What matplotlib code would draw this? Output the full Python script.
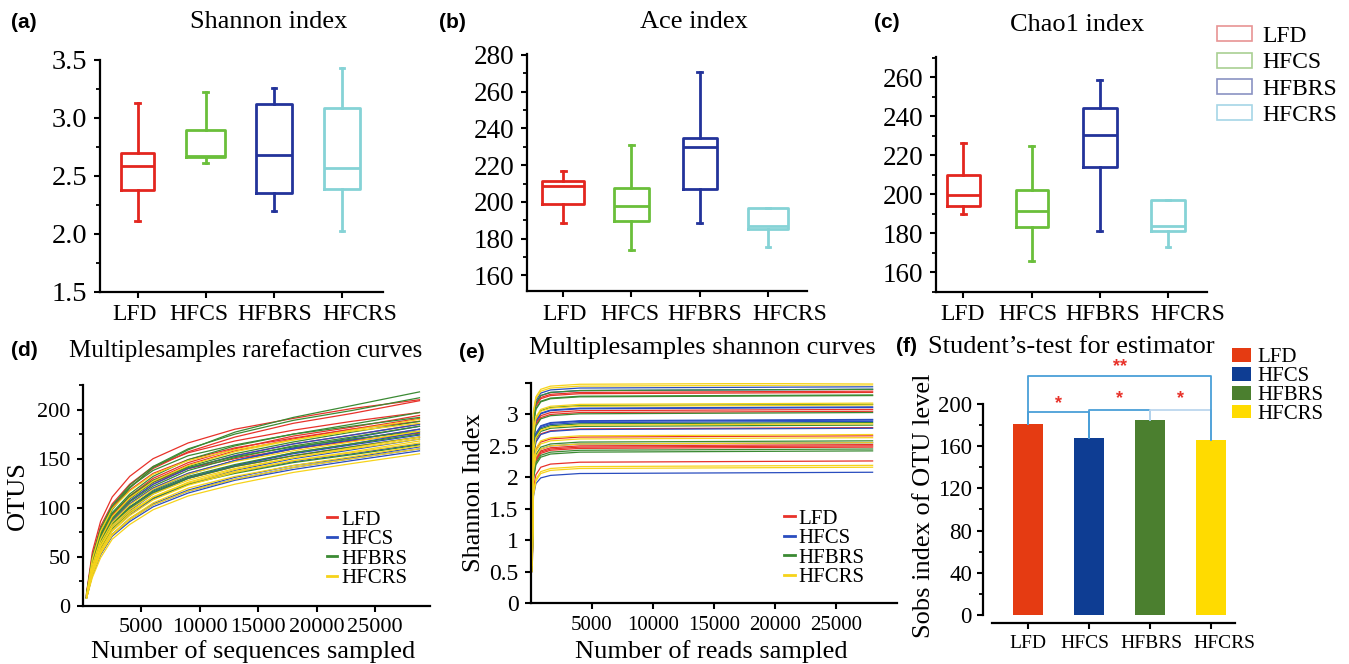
import matplotlib
matplotlib.use('Agg')
import matplotlib.pyplot as plt
from matplotlib.patches import Patch
from matplotlib.lines import Line2D
from matplotlib.ticker import MultipleLocator, FixedLocator, FormatStrFormatter
from matplotlib.transforms import ScaledTranslation

# ---------------- data ----------------
groups = ['LFD', 'HFCS', 'HFBRS', 'HFCRS']

# box statistics: [whislo, q1, med, q3, whishi]
shannon_stats = [[2.11, 2.375, 2.59, 2.70, 3.125],
                 [2.61, 2.665, 2.675, 2.895, 3.225],
                 [2.20, 2.355, 2.685, 3.12, 3.26],
                 [2.03, 2.39, 2.57, 3.09, 3.43]]
ace_stats = [[188.4, 198.9, 208.5, 211.4, 217.0],
             [173.6, 189.7, 198.0, 207.6, 231.1],
             [188.4, 207.1, 229.9, 234.6, 270.6],
             [175.2, 185.3, 187.0, 196.7, 196.7]]
chao_stats = [[189.7, 194.2, 199.8, 209.9, 226.3],
              [166.0, 183.4, 191.6, 202.2, 224.8],
              [181.4, 214.2, 230.3, 244.1, 258.3],
              [172.8, 181.4, 183.6, 197.1, 197.1]]

# rarefaction curves (OTUs vs sequences sampled)
rare_x = [300, 800, 1500, 2500, 4000, 6000, 9000, 13000, 18000, 23000, 28800]
rare_lfd = [
    [13, 55, 86, 111, 132, 150, 166, 180, 191, 201, 210],
    [10, 46, 75, 100, 121, 140, 157, 172, 186, 196, 209],
    [12, 51, 81, 104, 124, 142, 156, 168, 179, 188, 197],
    [10, 43, 70, 93, 112, 130, 146, 160, 173, 182, 194],
    [10, 42, 69, 92, 111, 128, 144, 158, 170, 180, 191],
    [11, 49, 77, 100, 118, 135, 149, 161, 171, 180, 188],
    [9, 41, 67, 89, 107, 124, 140, 153, 165, 174, 185],
    [9, 40, 65, 86, 104, 120, 135, 148, 160, 169, 180],
    [11, 46, 72, 93, 111, 126, 140, 150, 160, 168, 176],
    [9, 38, 62, 83, 99, 115, 130, 142, 153, 162, 172]]
rare_hfcs = [
    [9, 41, 67, 89, 107, 124, 140, 153, 165, 174, 185],
    [9, 37, 60, 82, 100, 118, 134, 148, 161, 171, 183],
    [9, 40, 65, 86, 104, 120, 135, 148, 160, 169, 180],
    [9, 35, 58, 80, 97, 114, 130, 143, 156, 165, 177],
    [9, 38, 63, 84, 101, 116, 131, 143, 155, 164, 174],
    [9, 34, 56, 77, 93, 109, 124, 138, 150, 159, 170],
    [8, 36, 59, 79, 95, 110, 124, 136, 147, 155, 165],
    [8, 32, 53, 73, 89, 104, 118, 131, 143, 151, 162],
    [8, 32, 53, 72, 88, 103, 117, 129, 141, 150, 160],
    [8, 32, 52, 71, 86, 101, 115, 128, 139, 148, 158]]
rare_hfbrs = [
    [11, 44, 72, 98, 120, 141, 159, 177, 192, 204, 218],
    [11, 47, 76, 102, 123, 142, 160, 175, 189, 199, 212],
    [10, 43, 71, 95, 114, 132, 149, 163, 175, 185, 197],
    [12, 50, 79, 102, 121, 138, 153, 164, 175, 183, 192],
    [9, 41, 68, 90, 109, 126, 142, 155, 167, 177, 188],
    [9, 40, 66, 88, 106, 122, 138, 151, 163, 172, 183],
    [11, 46, 73, 94, 112, 128, 141, 152, 162, 170, 178],
    [9, 39, 63, 84, 101, 117, 132, 144, 156, 165, 175],
    [9, 38, 62, 83, 99, 115, 130, 142, 153, 162, 172],
    [8, 36, 59, 79, 95, 110, 124, 135, 146, 154, 164]]
rare_hfcrs = [
    [10, 42, 68, 91, 110, 127, 143, 157, 169, 179, 190],
    [11, 48, 76, 99, 117, 134, 148, 159, 169, 178, 186],
    [9, 39, 64, 85, 103, 119, 134, 147, 158, 167, 178],
    [9, 34, 57, 77, 94, 111, 126, 139, 151, 161, 172],
    [9, 37, 61, 82, 98, 114, 128, 140, 151, 160, 170],
    [8, 34, 55, 76, 92, 108, 123, 136, 148, 157, 168],
    [8, 37, 60, 80, 96, 111, 125, 137, 148, 156, 166],
    [8, 33, 54, 73, 89, 105, 120, 132, 143, 152, 163],
    [8, 32, 53, 72, 88, 103, 117, 129, 141, 150, 160],
    [8, 29, 49, 68, 83, 98, 112, 124, 136, 145, 155]]

# shannon curves (Shannon index vs reads sampled)
shan_x = [100, 200, 400, 800, 1600, 4000, 28000]
shan_lfd = [
    [0.8, 2.92, 3.15, 3.27, 3.32, 3.35, 3.37],
    [0.8, 2.90, 3.13, 3.25, 3.30, 3.33, 3.35],
    [0.7, 2.63, 2.86, 2.98, 3.03, 3.06, 3.08],
    [0.7, 2.60, 2.83, 2.95, 3.00, 3.03, 3.05],
    [0.7, 2.34, 2.57, 2.69, 2.74, 2.77, 2.79],
    [0.6, 2.21, 2.44, 2.56, 2.61, 2.64, 2.66],
    [0.6, 2.07, 2.30, 2.42, 2.47, 2.50, 2.52],
    [0.6, 2.05, 2.28, 2.40, 2.45, 2.48, 2.50],
    [0.6, 2.03, 2.26, 2.38, 2.43, 2.46, 2.48],
    [0.5, 1.81, 2.04, 2.16, 2.21, 2.24, 2.26]]
shan_hfcs = [
    [0.8, 2.99, 3.22, 3.34, 3.39, 3.42, 3.44],
    [0.8, 2.95, 3.18, 3.30, 3.35, 3.38, 3.40],
    [0.7, 2.67, 2.90, 3.02, 3.07, 3.10, 3.12],
    [0.7, 2.66, 2.89, 3.01, 3.06, 3.09, 3.11],
    [0.7, 2.47, 2.70, 2.82, 2.87, 2.90, 2.92],
    [0.7, 2.46, 2.69, 2.81, 2.86, 2.89, 2.91],
    [0.7, 2.44, 2.67, 2.79, 2.84, 2.87, 2.89],
    [0.6, 2.33, 2.56, 2.68, 2.73, 2.76, 2.78],
    [0.6, 2.10, 2.33, 2.45, 2.50, 2.53, 2.55],
    [0.5, 1.70, 1.90, 1.99, 2.03, 2.06, 2.08]]
shan_hfbrs = [
    [0.8, 2.95, 3.18, 3.30, 3.35, 3.38, 3.40],
    [0.8, 2.86, 3.09, 3.21, 3.26, 3.29, 3.31],
    [0.8, 2.85, 3.08, 3.20, 3.25, 3.28, 3.30],
    [0.7, 2.71, 2.94, 3.06, 3.11, 3.14, 3.16],
    [0.7, 2.58, 2.81, 2.93, 2.98, 3.01, 3.03],
    [0.7, 2.42, 2.65, 2.77, 2.82, 2.85, 2.87],
    [0.6, 2.38, 2.61, 2.73, 2.78, 2.81, 2.83],
    [0.6, 2.13, 2.36, 2.48, 2.53, 2.56, 2.58],
    [0.6, 2.00, 2.23, 2.35, 2.40, 2.43, 2.45],
    [0.6, 1.97, 2.20, 2.32, 2.37, 2.40, 2.42]]
shan_hfcrs = [
    [0.6, 3.05, 3.28, 3.40, 3.45, 3.48, 3.50],
    [0.7, 3.02, 3.25, 3.37, 3.42, 3.45, 3.47],
    [0.7, 2.73, 2.96, 3.08, 3.13, 3.16, 3.18],
    [0.7, 2.70, 2.93, 3.05, 3.10, 3.13, 3.15],
    [0.7, 2.40, 2.63, 2.75, 2.80, 2.83, 2.85],
    [0.6, 2.23, 2.46, 2.58, 2.63, 2.66, 2.68],
    [0.6, 2.18, 2.41, 2.53, 2.58, 2.61, 2.63],
    [0.6, 2.10, 2.33, 2.45, 2.50, 2.53, 2.55],
    [0.6, 1.74, 1.97, 2.09, 2.14, 2.17, 2.19],
    [0.5, 1.71, 1.94, 2.06, 2.11, 2.14, 2.16]]

# Sobs index (student's t-test panel)
sobs = [181, 168, 185, 166]
# significance comparisons: (i, j, label)
sig_pairs = [(0, 1, '*'), (1, 2, '*'), (2, 3, '*'), (0, 3, '**')]

# ---------------- style ----------------
box_colors = ['#e3261f', '#6abf3a', '#23339a', '#85d3d6']
legend_box_colors = ['#e89494', '#a9cf92', '#8a92c2', '#a6d6e6']
line_colors = ['#e8322a', '#2a4dbf', '#3b8a33', '#f6d31a']
bar_colors = ['#e53b12', '#0e3d93', '#4b7f2f', '#ffdb00']
bracket_color = '#4a9fd8'
bracket_light = '#bcd7ee'

SERIF = 'Liberation Serif'
SANS = 'Liberation Sans'
plt.rcParams['font.family'] = SERIF
plt.rcParams['axes.linewidth'] = 1.6

W, H = 1349, 664
fig = plt.figure(figsize=(W / 100, H / 100), dpi=100)


def ax_px(l, t, r, b):
    return fig.add_axes([l / W, 1 - b / H, (r - l) / W, (b - t) / H])


def fx(x):
    return x / W


def fy(y):
    return 1 - y / H


def style_axes(ax, ysize, xsize, ypad=5):
    for s in ['top', 'right']:
        ax.spines[s].set_visible(False)
    ax.tick_params(axis='both', which='major', direction='out', width=1.5,
                   length=4, color='black')
    ax.tick_params(axis='both', which='minor', direction='out', width=1.3,
                   length=3, color='black')
    ax.tick_params(axis='y', labelsize=ysize, pad=ypad)
    ax.tick_params(axis='x', labelsize=xsize, pad=5)


def shift_xlabels(ax, offsets):
    for lab, dx in zip(ax.get_xticklabels(), offsets):
        lab.set_transform(lab.get_transform() +
                          ScaledTranslation(dx / 100, 0, fig.dpi_scale_trans))


def boxpanel(ax, stats, widths, ylim, ymajor, yminor, ysize):
    bx = []
    for g, s in zip(groups, stats):
        bx.append(dict(label=g, whislo=s[0], q1=s[1], med=s[2], q3=s[3],
                       whishi=s[4], fliers=[]))
    art = ax.bxp(bx, positions=range(len(groups)), widths=widths,
                 showfliers=False, capwidths=0.07,
                 boxprops=dict(linewidth=2.0),
                 medianprops=dict(linewidth=2.0),
                 whiskerprops=dict(linewidth=2.0),
                 capprops=dict(linewidth=2.0))
    for i, c in enumerate(box_colors):
        art['boxes'][i].set_color(c)
        art['medians'][i].set_color(c)
        for k in (2 * i, 2 * i + 1):
            art['whiskers'][k].set_color(c)
            art['caps'][k].set_color(c)
    ax.set_ylim(*ylim)
    ax.yaxis.set_major_locator(ymajor)
    ax.yaxis.set_minor_locator(yminor)
    ax.set_xticks(range(len(groups)))
    ax.set_xticklabels(groups)
    style_axes(ax, ysize, 17)


# ---------------- (a) Shannon ----------------
axa = ax_px(100, 60, 383, 292)
boxpanel(axa, shannon_stats, [0.47, 0.57, 0.53, 0.53], (1.5, 3.5),
         FixedLocator([1.5, 2.0, 2.5, 3.0, 3.5]), MultipleLocator(0.25), 20.5)
axa.yaxis.set_major_formatter(FormatStrFormatter('%.1f'))
axa.set_xlim(-0.55, 3.6)
shift_xlabels(axa, [-3, -7, 1, 18])

# ---------------- (b) Ace ----------------
axb = ax_px(527, 54, 807, 291)
boxpanel(axb, ace_stats, [0.62, 0.51, 0.50, 0.59], (151.5, 280.5),
         MultipleLocator(20), MultipleLocator(10), 19.5)
axb.set_xlim(-0.53, 3.57)
shift_xlabels(axb, [1, -2, 5, 22])

# ---------------- (c) Chao1 ----------------
axc = ax_px(936, 57, 1207, 292)
boxpanel(axc, chao_stats, [0.48, 0.47, 0.50, 0.51], (150, 270.3),
         FixedLocator([160, 180, 200, 220, 240, 260]), MultipleLocator(10), 19.5)
axc.set_xlim(-0.4, 3.57)
shift_xlabels(axc, [-1, -4, 3, 20])

fig.legend(handles=[Patch(facecolor='white', edgecolor=c, linewidth=1.2, label=g)
                    for g, c in zip(groups, legend_box_colors)],
           loc='upper left', bbox_to_anchor=(fx(1217), fy(26)), frameon=False,
           fontsize=17, handlelength=1.5, handleheight=0.6, labelspacing=0.23,
           handletextpad=0.4, borderaxespad=0, borderpad=0)

# ---------------- (d) rarefaction ----------------
axd = ax_px(83, 385, 430, 606)
for data, c in zip([rare_lfd, rare_hfcs, rare_hfbrs, rare_hfcrs], line_colors):
    for row in data:
        axd.plot(rare_x, row, color=c, lw=0.9)
axd.set_xlim(0, 29700)
axd.set_ylim(0, 225)
axd.xaxis.set_major_locator(FixedLocator([5000, 10000, 15000, 20000, 25000]))
axd.yaxis.set_major_locator(FixedLocator([0, 50, 100, 150, 200]))
axd.yaxis.set_minor_locator(MultipleLocator(25))
style_axes(axd, 16, 16)
axd.set_ylabel('OTUS', fontsize=19)
axd.yaxis.set_label_coords((29 - 83) / (430 - 83), (606 - 496) / (606 - 385))
axd.set_xlabel('Number of sequences sampled', fontsize=19)
axd.xaxis.set_label_coords((253 - 83) / (430 - 83), (606 - 640) / (606 - 385))
axd.legend(handles=[Line2D([], [], color=c, lw=2, label=g)
                    for g, c in zip(groups, line_colors)],
           loc='upper left', bbox_to_anchor=((327 - 83) / 347, (606 - 510) / 221),
           frameon=False, fontsize=15, handlelength=0.5, handletextpad=0.2,
           labelspacing=0.0, borderpad=0, borderaxespad=0)

# ---------------- (e) shannon curves ----------------
axe = ax_px(531, 383, 897, 603)
for data, c in zip([shan_lfd, shan_hfcs, shan_hfbrs, shan_hfcrs], line_colors):
    for row in data:
        axe.plot(shan_x, row, color=c, lw=0.9)
axe.set_xlim(0, 30000)
axe.set_ylim(0, 3.5)
axe.xaxis.set_major_locator(FixedLocator([5000, 10000, 15000, 20000, 25000]))
axe.yaxis.set_major_locator(FixedLocator([0, 0.5, 1, 1.5, 2, 2.5, 3, 3.5]))
axe.set_yticklabels(['0', '0.5', '1', '1.5', '2', '2.5', '3', ''])
style_axes(axe, 17, 15)
axe.set_ylabel('Shannon Index', fontsize=19)
axe.yaxis.set_label_coords((485 - 531) / (897 - 531), (603 - 493) / (603 - 383))
axe.set_xlabel('Number of reads sampled', fontsize=19)
axe.xaxis.set_label_coords((711 - 531) / (897 - 531), (603 - 640) / (603 - 383))
axe.legend(handles=[Line2D([], [], color=c, lw=2, label=g)
                    for g, c in zip(groups, line_colors)],
           loc='upper left', bbox_to_anchor=((784 - 531) / 366, (603 - 509) / 220),
           frameon=False, fontsize=15, handlelength=0.55, handletextpad=0.15,
           labelspacing=0.0, borderpad=0, borderaxespad=0)

# ---------------- (f) bars ----------------
axf = ax_px(983, 367, 1235, 623)
xpos = list(range(len(groups)))
axf.bar(xpos, sobs, width=0.49, color=bar_colors)
axf.set_xlim(-0.74, 3.39)
axf.set_ylim(-7.6, 235)
axf.spines['left'].set_bounds(0, 200)
axf.spines['bottom'].set_bounds(-0.6, 3.39)
axf.yaxis.set_major_locator(FixedLocator([0, 40, 80, 120, 160, 200]))
axf.yaxis.set_minor_locator(FixedLocator([20, 60, 100, 140, 180]))
axf.set_xticks(xpos)
axf.set_xticklabels(groups)
style_axes(axf, 16.5, 14, ypad=4)
shift_xlabels(axf, [0, -4, 1, 13])
axf.set_ylabel('Sobs index of OTU level', fontsize=19)
axf.yaxis.set_label_coords((935 - 983) / 252, (623 - 506) / 256)

# significance brackets
top = max(sobs)
for i, j, lab in sig_pairs:
    if lab == '**':
        yb = top + 41
        col = bracket_color
        axf.plot([i, i, j, j], [sobs[i], yb, yb, sobs[j]], color=col, lw=1.3)
        axf.text((i + j) / 2, yb + 1, lab, color='#e8322a', ha='center',
                 va='bottom', fontsize=13, fontweight='bold', family=SANS)
    else:
        yb = max(sobs[i], sobs[j]) + (11 if i == 0 else 9)
        col = bracket_light if i == 2 else bracket_color
        axf.plot([i, i, j, j], [sobs[i], yb, yb, sobs[j]], color=col, lw=1.3)
        axf.text((i + j) / 2, yb + (0 if i == 0 else 3), lab, color='#e8322a',
                 ha='center', va='bottom', fontsize=13, fontweight='bold',
                 family=SANS)

fig.legend(handles=[Patch(facecolor=c, edgecolor='none', label=g)
                    for g, c in zip(groups, bar_colors)],
           loc='upper left', bbox_to_anchor=(fx(1232), fy(348)), frameon=False,
           fontsize=15, handlelength=0.9, handleheight=0.65, labelspacing=-0.02,
           handletextpad=0.3, borderaxespad=0, borderpad=0)

# ---------------- titles and panel letters ----------------
letters = [('(a)', 11, 22), ('(b)', 439, 22), ('(c)', 874, 23),
           ('(d)', 11, 350), ('(e)', 459, 352), ('(f)', 896, 347)]
for t, x, y in letters:
    fig.text(fx(x), fy(y), t, fontsize=15, fontweight='bold', family=SANS,
             ha='left', va='center')

titles = [('Shannon index', 269, 22, 'center'), ('Ace index', 694, 22, 'center'),
          ('Chao1 index', 1077, 25, 'center'),
          ('Multiplesamples rarefaction curves', 246, 351, 'center'),
          ('Multiplesamples shannon curves', 702, 348, 'center'),
          ('Student\u2019s-test for estimator', 928, 347, 'left')]
for t, x, y, ha in titles:
    fig.text(fx(x), fy(y), t, fontsize=19 if 'rarefaction' not in t else 18,
             ha=ha, va='center')

fig.savefig('out.png', dpi=100)
